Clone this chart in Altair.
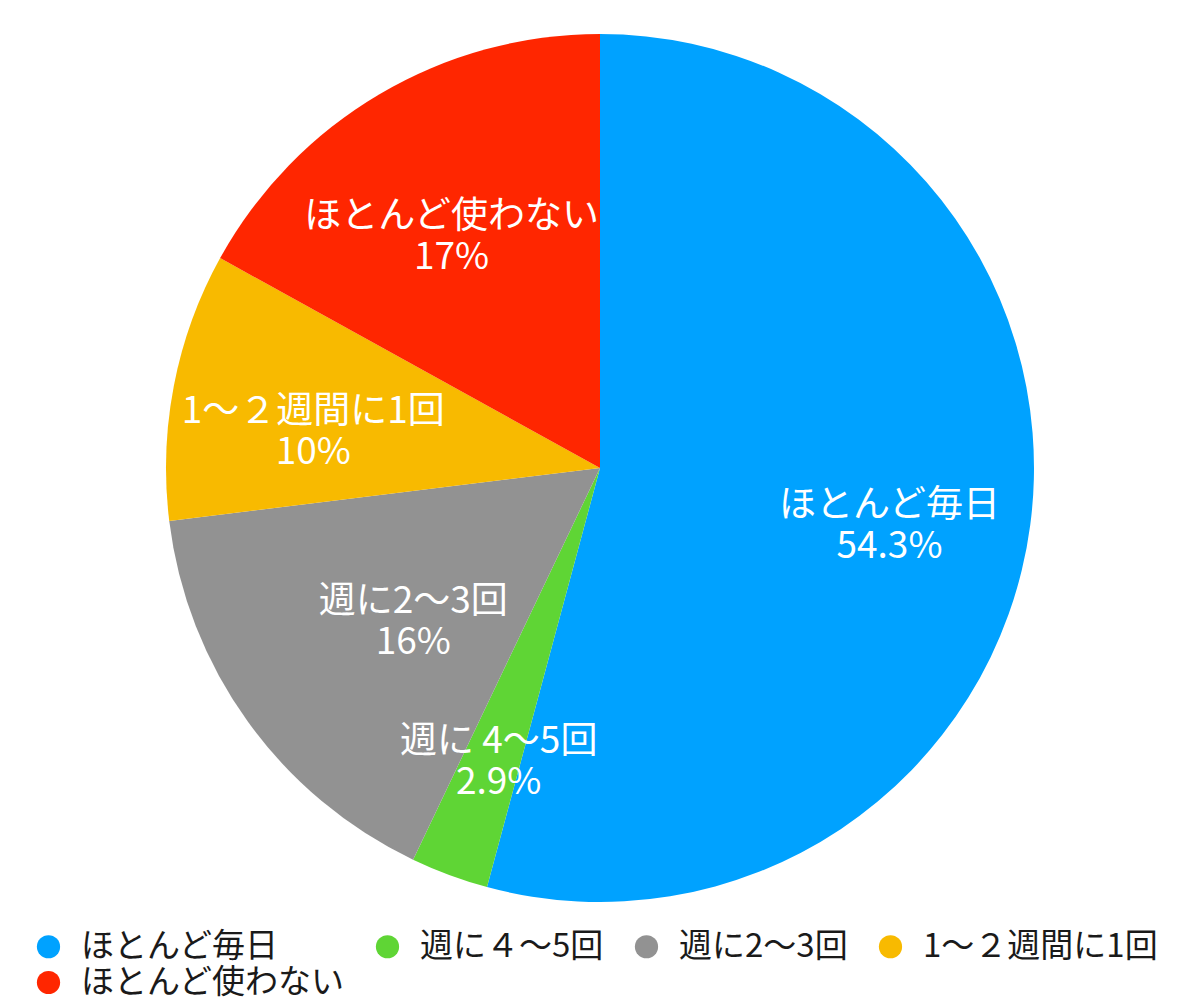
import pandas as pd
import altair as alt

# slices, clockwise from 12 o'clock
categories = ["ほとんど毎日", "週に４～5回", "週に2～3回", "1～２週間に1回", "ほとんど使わない"]
slice_labels = ["ほとんど毎日", "週に 4～5回", "週に2～3回", "1～２週間に1回", "ほとんど使わない"]
shares = [54.3, 2.9, 16, 10, 17]
share_text = ["54.3%", "2.9%", "16%", "10%", "17%"]
colors = ["#00A2FF", "#5FD535", "#929292", "#F8BA00", "#FF2600"]

df = pd.DataFrame({
    "category": categories,
    "share": shares,
    "order": list(range(len(categories))),
    "label": [f"{a}\n{b}" for a, b in zip(slice_labels, share_text)],
})

FONT = "Noto Sans CJK JP"
R = 434
GREY = "週に2～3回"

base = alt.Chart(df).encode(
    theta=alt.Theta("share:Q", stack=True),
    order=alt.Order("order:Q"),
)

pie = base.mark_arc(outerRadius=R).encode(
    color=alt.Color(
        "category:N",
        scale=alt.Scale(domain=categories, range=colors),
        legend=alt.Legend(
            title=None,
            orient="none",
            direction="horizontal",
            legendX=24,
            legendY=922,
            columns=4,
            columnPadding=26,
            rowPadding=2,
            symbolType="circle",
            symbolSize=540,
            symbolStrokeWidth=0,
            labelFont=FONT,
            labelFontSize=33,
            labelColor="#1a1a1a",
            labelOffset=16,
            labelLimit=400,
            padding=0,
        ),
    )
)

text_style = dict(
    font=FONT, fontSize=37, color="white", lineBreak="\n", lineHeight=41,
    align="center", baseline="middle",
)

# keep every row in the text layers so the stack matches the pie
labels = base.transform_calculate(
    txt=f"datum.category == '{GREY}' ? '' : datum.label"
).mark_text(radius=292, **text_style).encode(text="txt:N")

# the grey slice label sits closer to the centre in the original
labels_grey = base.transform_calculate(
    txt=f"datum.category == '{GREY}' ? datum.label : ''"
).mark_text(radius=230, **text_style).encode(text="txt:N")

chart = alt.layer(pie, labels, labels_grey).properties(
    width=1184,
    height=920,
    padding=0,
).configure_view(stroke=None)

chart.save("out.html", embed_options={"renderer": "svg", "actions": False})
